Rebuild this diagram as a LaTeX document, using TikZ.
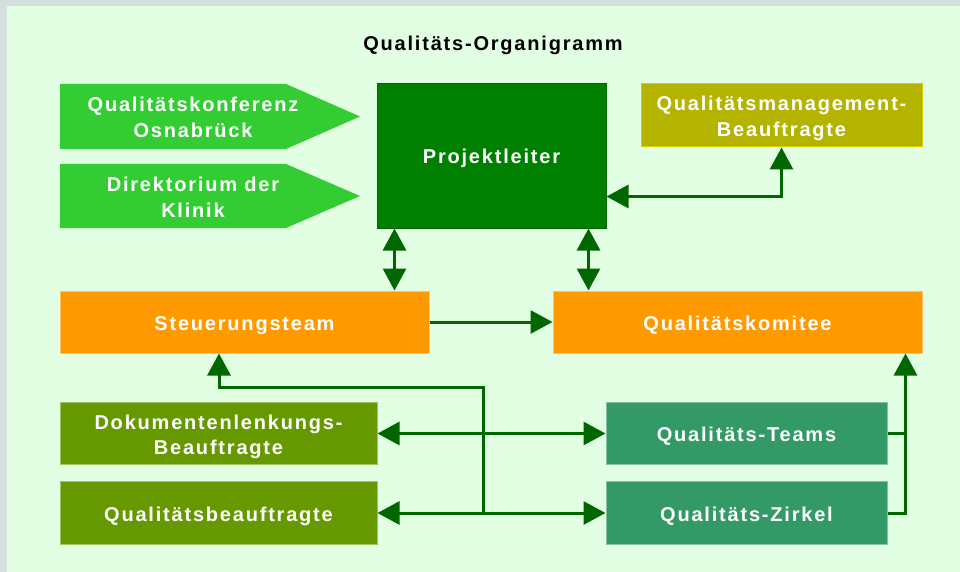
\documentclass[tikz,border=0pt]{standalone}
\usepackage{fontspec}
\usetikzlibrary{arrows.meta}
\newfontfamily\orgfont[LetterSpace=9]{Liberation Sans}
\definecolor{bandgrey}{HTML}{D5E0DD}
\definecolor{paleground}{HTML}{E3FFE3}
\definecolor{signalgreen}{HTML}{33CC33}
\definecolor{leitergreen}{HTML}{008000}
\definecolor{olivebox}{HTML}{B3B300}
\definecolor{orangebox}{HTML}{FF9900}
\definecolor{grassbox}{HTML}{669900}
\definecolor{seabox}{HTML}{339966}
\definecolor{linkgreen}{HTML}{006600}

\begin{document}
\begin{tikzpicture}[x=1pt,y=-1pt]
    \tikzset{BoxStyle/.style = {%
        shape= rectangle,
        inner sep= 0pt,
        align= center,
        text= white,
        text height= 16pt,
        text depth= 0pt,
        font= \orgfont\bfseries\fontsize{20}{25.5}\selectfont,
        line width= 1pt},%
      TwoLines/.style = {%
        text height= 42pt,
        text depth= 0pt},%
      ConnStyle/.style = {%
        draw= linkgreen,
        line width= 3pt,
        >= {Triangle[length=22pt,width=23pt]}}}
    \fill[bandgrey] (0,0) rectangle (960,572);
    \fill[paleground] (7,6) rectangle (960,572);
    \node[font=\orgfont\bfseries\fontsize{20}{24}\selectfont] (title) at (493,45.5) {Qualitäts-Organigramm};
    % signal arrows on the left
    \fill[signalgreen] (60,84) -- (286,84) -- (360,116.5) -- (286,149) -- (60,149) -- cycle;
    \node[BoxStyle,TwoLines] (konferenz) at (193,116.5) {Qualitätskonferenz\\Osnabrück};
    \fill[signalgreen] (60,164) -- (286,164) -- (360,196) -- (286,228) -- (60,228) -- cycle;
    \node[BoxStyle,TwoLines] (direktorium) at (193,196) {Direktorium der\\Klinik};
    % boxes
    \node[BoxStyle,fill=leitergreen,draw=linkgreen,minimum width=229,minimum height=144] (pl) at (491.5,156) {Projektleiter};
    \node[BoxStyle,TwoLines,fill=olivebox,draw=olivebox!60!yellow,minimum width=281,minimum height=63] (qmb) at (781.5,115.5) {Qualitätsmanagement-\\Beauftragte};
    \node[BoxStyle,fill=orangebox,draw=orangebox!60!white,minimum width=369,minimum height=62] (st) at (244.5,322) {Steuerungsteam};
    \node[BoxStyle,fill=orangebox,draw=orangebox!60!white,minimum width=369,minimum height=62] (qk) at (737.5,322) {Qualitätskomitee};
    \node[BoxStyle,TwoLines,fill=grassbox,draw=grassbox!60!white,minimum width=317,minimum height=62] (dok) at (218.5,433.5) {Dokumentenlenkungs-\\Beauftragte};
    \node[BoxStyle,fill=grassbox,draw=grassbox!60!white,minimum width=317,minimum height=63] (qb) at (218.5,513) {Qualitätsbeauftragte};
    \node[BoxStyle,fill=seabox,draw=seabox!60!white,minimum width=281,minimum height=62] (teams) at (746.5,433.5) {Qualitäts-Teams};
    \node[BoxStyle,fill=seabox,draw=seabox!60!white,minimum width=281,minimum height=63] (zirkel) at (746.5,513) {Qualitäts-Zirkel};
    \coordinate (knot) at (483,513);
    \coordinate (bend) at (219,387);
    \coordinate (rail) at ([xshift=-17pt]qk.south east);
    % connectors
    \draw[ConnStyle,<->] (qmb.south) |- ([yshift=-40.5pt]pl.east);
    \draw[ConnStyle,<->] ([xshift=18pt]pl.south west) -- ([xshift=18pt]pl.south west |- st.north);
    \draw[ConnStyle,<->] ([xshift=-18pt]pl.south east) -- ([xshift=-18pt]pl.south east |- qk.north);
    \draw[ConnStyle,->] (st.east) -- (qk.west);
    \draw[ConnStyle,<->] (dok.east) -- (teams.west);
    \draw[ConnStyle,<->] (qb.east) -- (zirkel.west);
    \draw[ConnStyle,->] (knot) |- (bend) -- (bend |- st.south);
    \draw[ConnStyle] (teams.east) -- (rail |- teams.east);
    \draw[ConnStyle,->] (zirkel.east) -| (rail);
\end{tikzpicture}
\end{document}
